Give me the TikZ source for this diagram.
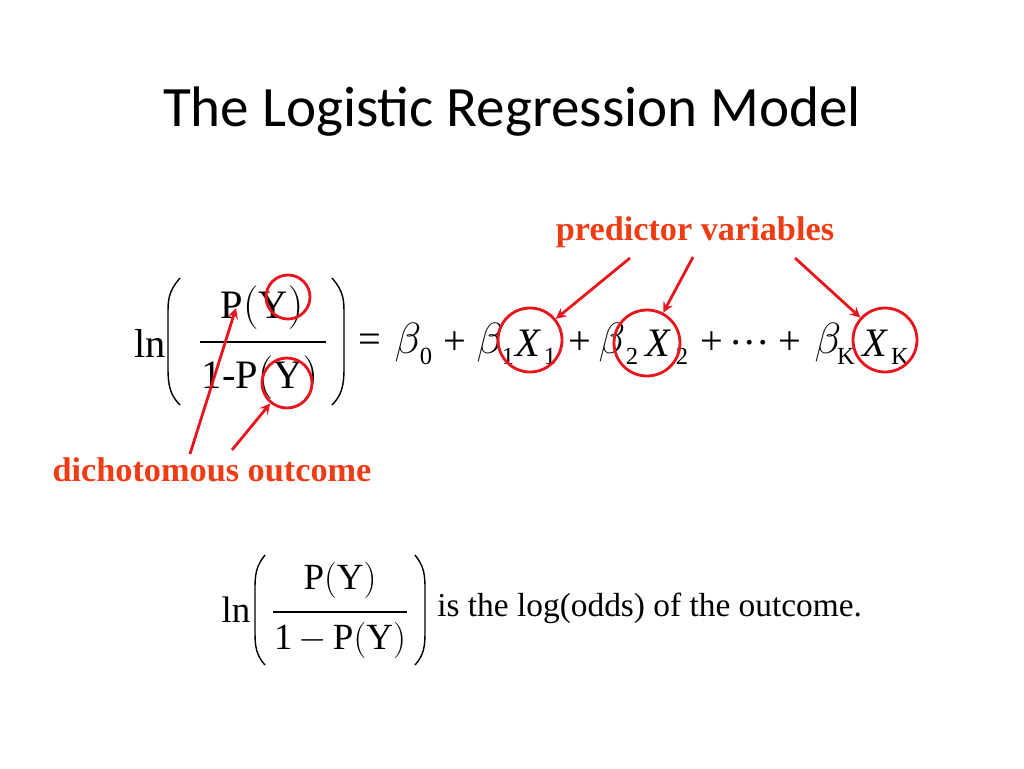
\documentclass[tikz,border=0pt]{standalone}
\usepackage{fontspec}
\setmainfont{Liberation Serif}
\newfontfamily\titlefont{Carlito}
\definecolor{lblred}{RGB}{240,60,20}
\definecolor{circred}{RGB}{232,20,30}
\begin{document}
\begin{tikzpicture}[x=0.02cm,y=-0.02cm,
  eq/.style={inner sep=0pt,font=\fontsize{23}{26}\selectfont},
  eqi/.style={inner sep=0pt,font=\fontsize{23}{26}\selectfont\itshape},
  sub/.style={inner sep=0pt,font=\fontsize{14}{16}\selectfont},
  eqb/.style={inner sep=0pt,font=\fontsize{21}{24}\selectfont},
  lbl/.style={inner sep=0pt,text=lblred,font=\fontsize{19.5}{23}\selectfont\bfseries},
  ring/.style={circle,draw=circred,line width=1.6pt,inner sep=0pt},
  arr/.style={->,>=stealth,draw=circred,line width=1.6pt},
  paren/.style={line width=0.8pt}]
\useasboundingbox (0,0) rectangle (1024,768);
\node[inner sep=0pt,font=\titlefont\fontsize{32.5}{38}\selectfont] (title) at (512,112) {The Logistic Regression Model};
% first equation
\node[eq] (ln1) at (150,343) {ln};
\draw[paren] (180,278) .. controls (168,292) and (168,300) .. (168,315) -- (168,368) .. controls (168,385) and (170,395) .. (180,405);
\draw[paren] (332,278) .. controls (344,292) and (344,300) .. (344,315) -- (344,368) .. controls (344,385) and (342,395) .. (332,405);
\node[eq] (num1) at (262,308) {P$\bigl($Y$\bigr)$};
\draw[line width=0.8pt] (200,342) -- (326,342);
\node[eq] (den1) at (260,378) {1-P$\bigl($Y$\bigr)$};
\node[eq] (eqs) at (370,343) {=};
\node[eqi] (b0) at (408,343) {$\beta$};
\node[sub] (s0) at (426,356) {0};
\node[eq] (p1) at (455,343) {+};
\node[eqi] (b1) at (490,343) {$\beta$};
\node[sub] (s1) at (508,356) {1};
\node[eqi] (x1) at (528,343) {X};
\node[sub] (t1) at (550,356) {1};
\node[eq] (p2) at (580,343) {+};
\node[eqi] (b2) at (612,343) {$\beta$};
\node[sub] (s2) at (632,356) {2};
\node[eqi] (x2) at (658,343) {X};
\node[sub] (t2) at (682,356) {2};
\node[eq] (p3) at (712,343) {+};
\node[eq] (dots) at (750,343) {\dots};
\node[eq] (p4) at (790,343) {+};
\node[eqi] (bk) at (828,343) {$\beta$};
\node[sub] (sk) at (846,356) {K};
\node[eqi] (xk) at (875,343) {X};
\node[sub] (tk) at (900,356) {K};
% circles
\node[ring,minimum size=0.88cm] (c1) at (288,297) {};
\node[ring,minimum size=1.0cm] (c2) at (287,383) {};
\node[ring,minimum size=1.28cm] (c3) at (530,340) {};
\node[ring,minimum size=1.32cm] (c4) at (647,343) {};
\node[ring,minimum size=1.28cm] (c5) at (885,340) {};
% labels and arrows
\node[lbl] (pv) at (695,232) {predictor variables};
\node[lbl] (dout) at (212,470) {dichotomous outcome};
\coordinate (a1) at (630,258);
\coordinate (a2) at (693,257);
\coordinate (a3) at (795,258);
\coordinate (a4) at (190,454);
\coordinate (a5) at (232,450);
\draw[arr] (a1) -- (c3);
\draw[arr] (a2) -- (c4);
\draw[arr] (a3) -- (c5);
\draw[arr] (a4) -- (236,308);
\draw[arr] (a5) -- (c2);
% second equation
\node[eqb] (ln2) at (236,610) {ln};
\draw[paren] (265,555) .. controls (256,566) and (255,575) .. (255,588) -- (255,632) .. controls (255,646) and (256,655) .. (265,665);
\draw[paren] (415,555) .. controls (424,566) and (425,575) .. (425,588) -- (425,632) .. controls (425,646) and (424,655) .. (415,665);
\node[eqb] (num2) at (340,580) {P$\bigl($Y$\bigr)$};
\draw[line width=0.8pt] (273,612) -- (407,612);
\node[eqb] (den2) at (340,640) {1$\,-\,$P$\bigl($Y$\bigr)$};
\node[inner sep=0pt,anchor=west,font=\fontsize{19}{22}\selectfont] (cap) at (437,608) {is the log(odds) of the outcome.};
\end{tikzpicture}
\end{document}
